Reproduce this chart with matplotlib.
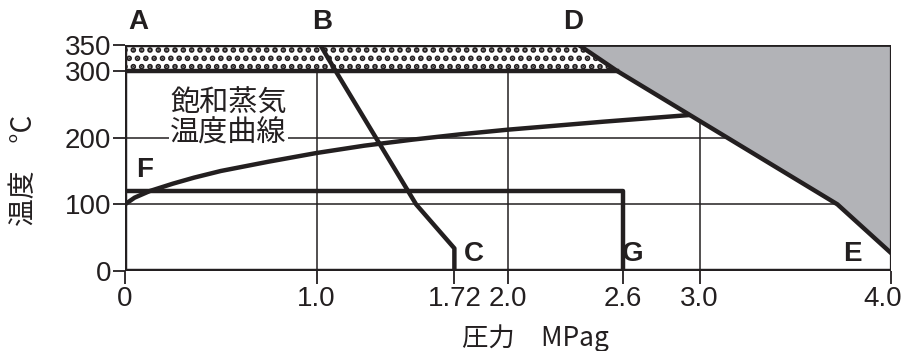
import numpy as np
import matplotlib
matplotlib.use("Agg")
import matplotlib.pyplot as plt
from matplotlib.transforms import ScaledTranslation

plt.rcParams['font.family'] = ['Liberation Sans', 'Noto Sans CJK JP']
plt.rcParams['hatch.linewidth'] = 2.8
jp = ['Noto Sans CJK JP', 'DejaVu Sans']
ink = '#231f20'

# saturated steam temperature curve (gauge pressure MPa, degC)
sat_p = [0, 0.05, 0.13, 0.25, 0.36, 0.5, 0.75, 1.0, 1.25, 1.5, 1.75, 2.0, 2.5, 2.95]
sat_t = [100, 110, 120, 131, 140, 150, 164, 177, 188, 197, 205, 212, 224, 234]

# line B-C
bc_p = [1.02, 1.10, 1.52, 1.72, 1.72]
bc_t = [350, 300, 100, 34, 0]
# line F-G
fg_p = [0, 2.6, 2.6]
fg_t = [120, 120, 0]
# line D-E
de_p = [2.37, 2.57, 3.72, 4.0]
de_t = [350, 300, 100, 27]

xticks = [0, 1.0, 1.72, 2.0, 2.6, 3.0, 4.0]
xlabels = ['0', '1.0', '1.72', '2.0', '2.6', '3.0', '4.0']
yticks = [0, 100, 200, 300, 350]

# point labels: text, pressure, temperature
pts = [('C', 1.82, 25), ('G', 2.65, 25), ('E', 3.80, 25), ('F', 0.10, 151)]
top_pts = [('A', 0.07), ('B', 1.03), ('D', 2.34)]

def fwd(t):
    t = np.asarray(t, dtype=float)
    return np.where(t <= 300, t, 300 + (t - 300) * 0.78)

def inv(u):
    u = np.asarray(u, dtype=float)
    return np.where(u <= 300, u, 300 + (u - 300) / 0.78)

fig = plt.figure(figsize=(9.05, 3.51), dpi=100)
ax = fig.add_axes([125 / 905, 80 / 351, 766 / 905, 226 / 351])
ax.set_yscale('function', functions=(fwd, inv))
ax.set_xlim(0, 4.0)
ax.set_ylim(0, 350)

for s in ax.spines.values():
    s.set_visible(False)

# grid
for p in [1.0, 2.0, 3.0]:
    ax.plot([p, p], [0, 300], color=ink, lw=1.1, zorder=1)
for t in [100, 200]:
    ax.plot([0, 4.0], [t, t], color=ink, lw=1.1, zorder=1)

# dotted band 300-350
ax.fill([0, 0, de_p[0], de_p[1]], [300, 350, 350, 300], facecolor='white',
        edgecolor=ink, hatch='..', lw=0, zorder=2)

# grey region
ax.fill(de_p + [4.0], de_t + [350], facecolor='#b2b3b7', edgecolor='none', zorder=2)

# frame
ax.plot([0, 4.0], [350, 350], color=ink, lw=2.0, zorder=4)
ax.plot([0, de_p[0]], [350, 350], color=ink, lw=3.2, zorder=4)
ax.plot([4.0, 4.0], [0, 350], color=ink, lw=1.6, zorder=4)
ax.plot([0, 0], [0, 350], color=ink, lw=3.2, zorder=4, solid_capstyle='projecting')
ax.plot([0, 4.0], [0, 0], color=ink, lw=3.2, zorder=4, solid_capstyle='butt')
ax.plot([0, de_p[1]], [300, 300], color=ink, lw=3.2, zorder=4)

# curves
ax.plot(sat_p, sat_t, color=ink, lw=3.2, zorder=4, solid_capstyle='butt')
ax.plot(bc_p, bc_t, color=ink, lw=3.2, zorder=4)
ax.plot(fg_p, fg_t, color=ink, lw=3.2, zorder=4)
ax.plot(de_p, de_t, color=ink, lw=3.2, zorder=4)

ax.text(0.54, 229, '飽和蒸気\n温度曲線', family=jp, fontsize=21, ha='center',
        va='center', linespacing=1.0, color=ink, zorder=5,
        bbox=dict(facecolor='white', edgecolor='none', pad=1))

for lab, p, t in pts:
    ax.text(p, t, lab, fontsize=20, fontweight='bold', ha='center', va='center',
            color=ink, zorder=5)
for lab, p in top_pts:
    ax.annotate(lab, (p, 350), xytext=(0, 7), textcoords='offset points',
                fontsize=20, fontweight='bold', ha='center', va='bottom',
                color=ink, annotation_clip=False)

ax.set_xticks(xticks)
ax.set_xticklabels(xlabels)
ax.set_yticks(yticks)
ax.tick_params(axis='both', labelsize=20, colors=ink, width=1.3, length=9, pad=2)
ax.tick_params(axis='y', pad=1)

# keep the last pressure label inside the figure
last = ax.get_xticklabels()[-1]
last.set_horizontalalignment('right')
last.set_transform(last.get_transform() + ScaledTranslation(0.11, 0, fig.dpi_scale_trans))

fig.text(24 / 905, 1 - 170 / 351, '温度　°C', family=jp, fontsize=20,
         rotation=90, ha='center', va='center', color=ink)
fig.text(535 / 905, 1 - 338 / 351, '圧力　MPag', family=jp, fontsize=19,
         ha='center', va='center', color=ink)

fig.savefig('out.png', dpi=100)
